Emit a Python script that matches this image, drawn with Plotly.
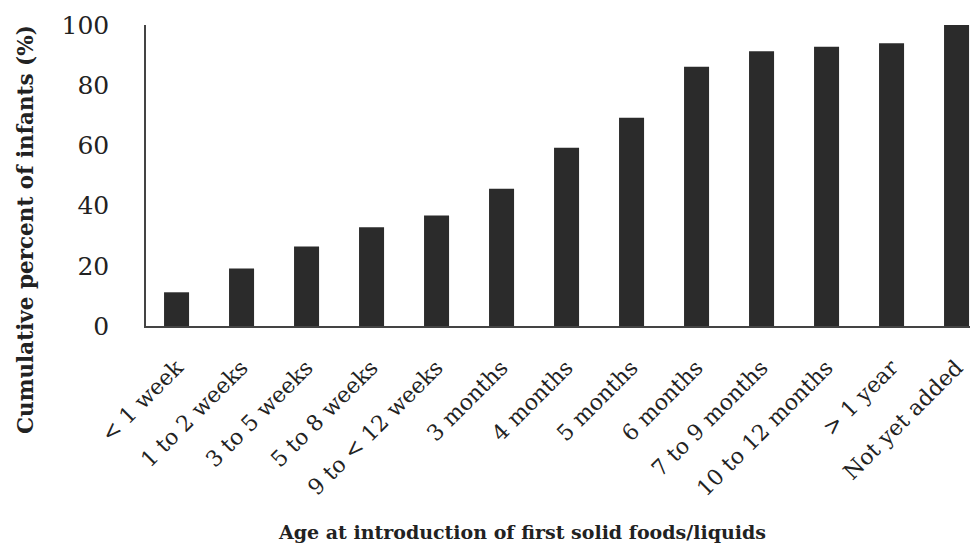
import plotly.graph_objects as go

categories = ["< 1 week", "1 to 2 weeks", "3 to 5 weeks", "5 to 8 weeks", "9 to < 12 weeks",
              "3 months", "4 months", "5 months", "6 months", "7 to 9 months",
              "10 to 12 months", "> 1 year", "Not yet added"]
cumulative_pct = [11.2, 19.1, 26.4, 32.8, 36.7, 45.6, 59.2, 69.2, 86.1, 91.3, 92.8, 93.9, 100.0]
y_ticks = [0, 20, 40, 60, 80, 100]

FONT = "DejaVu Serif"
OFF = 8  # page body margin
W, H = 978 - OFF, 555 - OFF
ML, MR, MT, MB = 146 - OFF, 0, 25 - OFF, 229
pw = W - ML - MR
ph = H - MT - MB


def px_x(x):
    return (x - OFF - ML) / pw


def px_y(y):
    return (H - MB - (y - OFF)) / ph


fig = go.Figure(go.Bar(
    x=list(range(len(categories))),
    y=cumulative_pct,
    marker=dict(color="#2b2b2b", line=dict(width=0)),
    width=0.385,
))

fig.update_layout(
    width=W, height=H,
    margin=dict(l=ML, r=MR, t=MT, b=MB, autoexpand=False),
    plot_bgcolor="white", paper_bgcolor="white",
    showlegend=False,
    font=dict(family=FONT, color="#222222"),
    xaxis=dict(
        range=[-0.47, 12.33],
        tickmode="array",
        tickvals=list(range(len(categories))),
        ticktext=categories,
        tickangle=-45,
        tickfont=dict(family=FONT, size=22, color="#222222"),
        showline=True, linecolor="#444444", linewidth=2,
        showgrid=False, zeroline=False,
        ticks="", ticklabelstandoff=18,
        automargin=False,
    ),
    yaxis=dict(
        range=[0, 100],
        tickmode="array",
        tickvals=y_ticks,
        tickfont=dict(family=FONT, size=25, color="#222222"),
        showline=True, linecolor="#444444", linewidth=1.5,
        showgrid=False, zeroline=False,
        ticks="", ticklabelstandoff=30,
        automargin=False,
    ),
    annotations=[
        dict(text="<b>Cumulative percent of infants (%)</b>", x=px_x(25), y=px_y(230),
             xref="paper", yref="paper", showarrow=False, textangle=-90,
             xanchor="center", yanchor="middle",
             font=dict(family=FONT, size=21.5, color="#222222")),
        dict(text="<b>Age at introduction of first solid foods/liquids</b>", x=px_x(522), y=px_y(532),
             xref="paper", yref="paper", showarrow=False,
             xanchor="center", yanchor="middle",
             font=dict(family=FONT, size=19, color="#222222")),
    ],
)

fig.write_html("out.html")
